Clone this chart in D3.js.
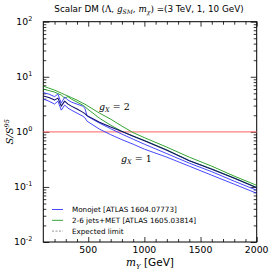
<!DOCTYPE html>
<html>
<head>
<meta charset="utf-8">
<script src="https://cdn.jsdelivr.net/npm/d3@7"></script>
<style>
  body { margin: 0; background: #fff; }
  svg { display: block; font-family: "DejaVu Sans", sans-serif; }
  .tick line { stroke: #000; stroke-width: 0.8; }
  .domain { stroke: none; }
  .math { font-family: "DejaVu Serif", serif; font-style: italic; }
</style>
</head>
<body>
<svg id="chart" width="274" height="274"></svg>
<script>
// ── data ──
const masses = [100, 150, 200, 230, 260, 290, 320, 350, 400, 450, 470, 490, 600, 700, 800, 900, 1000, 1200, 1400, 1600, 1800, 2000];

// 2-6 jets+MET, upper curve (g_X = 2)
const jetsUpper = [6.78, 6.22, 5.73, 5.38, 5.05, 4.75, 4.46, 4.19, 3.77, 3.32, 3.19, 3.00, 2.19, 1.70, 1.27, 0.967, 0.785, 0.527, 0.347, 0.238, 0.157, 0.107];
// 2-6 jets+MET, second curve
const jetsLower = [5.98, 5.61, 5.27, 4.95, 4.65, 4.10, 4.36, 3.93, 3.47, 3.06, 2.87, 2.64, 1.77, 1.32, 1.02, 0.84, 0.70, 0.47, 0.30, 0.212, 0.146, 0.098];
// Monojet curves
const monoUpper = [5.16, 4.85, 4.36, 4.85, 3.32, 4.27, 3.77, 3.47, 3.19, 2.93, 2.70, 1.93, 1.44, 1.14, 0.909, 0.736, 0.597, 0.402, 0.270, 0.189, 0.127, 0.0871];
const monoMid   = [4.46, 4.19, 3.77, 4.10, 2.93, 3.61, 3.19, 2.93, 2.59, 2.28, 2.14, 1.97, 1.50, 1.22, 1.01, 0.835, 0.692, 0.465, 0.299, 0.210, 0.144, 0.0967];
const monoLower = [3.93, 3.61, 3.19, 3.61, 2.48, 3.06, 2.70, 2.48, 2.19, 1.93, 1.81, 1.56, 1.12, 0.889, 0.721, 0.597, 0.485, 0.347, 0.238, 0.163, 0.112, 0.0767];

const yMajor = [-2, -1, 0, 1, 2];          // exponents
const xMajor = [500, 1000, 1500, 2000];
const legendLabels = ['Monojet [ATLAS 1604.07773]', '2-6 jets+MET [ATLAS 1605.03814]', 'Expected limit'];

// ── layout ──
const L = 43.3, R = 256.7, T = 21.7, B = 242;
const svg = d3.select('#chart');

const x = d3.scaleLinear().domain([100, 2000]).range([L, R]);
const y = d3.scaleLog().domain([0.01, 100]).range([B, T]);

// frame
svg.append('rect')
  .attr('x', L).attr('y', T).attr('width', R - L).attr('height', B - T)
  .attr('fill', 'none').attr('stroke', '#000').attr('stroke-width', 1);

// minor / major ticks via d3 axes (ticks pointing inside)
const xMinor = d3.range(200, 2000, 100).filter(v => v % 500 !== 0);
const yMinor = [];
for (let e = -2; e < 2; e++) for (let k = 2; k <= 9; k++) yMinor.push(k * Math.pow(10, e));
const yMajorVals = yMajor.map(e => Math.pow(10, e));

function ticks(axisFn, scale, vals, size, tr) {
  svg.append('g').attr('transform', tr)
    .call(axisFn(scale).tickValues(vals).tickSize(size).tickFormat(''));
}
ticks(d3.axisBottom, x, xMajor, -5, `translate(0,${B})`);
ticks(d3.axisBottom, x, xMinor, -3, `translate(0,${B})`);
ticks(d3.axisTop, x, xMajor, -5, `translate(0,${T})`);
ticks(d3.axisTop, x, xMinor, -3, `translate(0,${T})`);
ticks(d3.axisLeft, y, yMajorVals, -6, `translate(${L},0)`);
ticks(d3.axisLeft, y, yMinor, -3, `translate(${L},0)`);
ticks(d3.axisRight, y, yMajorVals, -6, `translate(${R},0)`);
ticks(d3.axisRight, y, yMinor, -3, `translate(${R},0)`);

// tick labels
svg.append('g').selectAll('text').data(xMajor).join('text')
  .attr('x', d => x(d)).attr('y', B + 11)
  .attr('text-anchor', 'middle').attr('font-size', 9.3)
  .text(d => d);

const yl = svg.append('g').selectAll('text').data(yMajor).join('text')
  .attr('x', L - 11).attr('y', d => y(Math.pow(10, d)) + 3)
  .attr('text-anchor', 'end').attr('font-size', 9.3);
yl.append('tspan').text('10');
yl.append('tspan').attr('font-size', 6.5).attr('dy', -4).text(d => d);

// reference line at S/S95 = 1
svg.append('line')
  .attr('x1', L).attr('x2', R).attr('y1', y(1)).attr('y2', y(1))
  .attr('stroke', '#ff6b6b').attr('stroke-width', 1.4).attr('stroke-opacity', 0.85);

// curves
svg.append('clipPath').attr('id', 'clip')
  .append('rect').attr('x', L).attr('y', T).attr('width', R - L).attr('height', B - T);

const line = d3.line().x((d, i) => x(masses[i])).y(d => y(d));
const series = [
  { vals: jetsLower, color: '#1f9a1f', w: 0.9 },
  { vals: jetsUpper, color: '#1f9a1f', w: 0.9 },
  { vals: monoUpper, color: '#3333ff', w: 0.9 },
  { vals: monoLower, color: '#3333ff', w: 0.9 },
  { vals: monoMid,   color: '#101070', w: 1.1 }
];
svg.append('g').attr('clip-path', 'url(#clip)')
  .selectAll('path').data(series).join('path')
  .attr('d', d => line(d.vals))
  .attr('fill', 'none')
  .attr('stroke', d => d.color)
  .attr('stroke-width', d => d.w)
  .attr('stroke-linejoin', 'round');

// annotations
function gLabel(px, py, n) {
  const t = svg.append('text').attr('x', px).attr('y', py).attr('font-size', 9.5)
    .attr('class', 'math');
  t.append('tspan').text('g');
  t.append('tspan').attr('font-size', 6.5).attr('dy', 2).text('X');
  t.append('tspan').attr('dy', -2).attr('font-style', 'normal').text(' = ' + n);
}
gLabel(99, 110, 2);
gLabel(121, 162, 1);

// legend
const legColors = ['#3333ff', '#1f9a1f', '#888'];
const lg = svg.append('g');
legendLabels.forEach((lab, i) => {
  const ly = 209.5 + i * 10.8;
  lg.append('line').attr('x1', 52).attr('x2', 63).attr('y1', ly).attr('y2', ly)
    .attr('stroke', legColors[i]).attr('stroke-width', 0.9)
    .attr('stroke-dasharray', i === 2 ? '2,1.5' : null);
  lg.append('text').attr('x', 72).attr('y', ly + 2.5).attr('font-size', 7.2).text(lab);
});

// title
const title = svg.append('text').attr('x', 149).attr('y', 12)
  .attr('text-anchor', 'middle').attr('font-size', 8.8);
title.append('tspan').text('Scalar DM (');
title.append('tspan').attr('font-family', 'DejaVu Serif').text('Λ, ');
title.append('tspan').attr('class', 'math').text('g');
title.append('tspan').attr('class', 'math').attr('font-size', 6).attr('dy', 2).text('SM');
title.append('tspan').attr('dy', -2).attr('font-family', 'DejaVu Serif').text(', ');
title.append('tspan').attr('class', 'math').text('m');
title.append('tspan').attr('class', 'math').attr('font-size', 6).attr('dy', 2).text('χ');
title.append('tspan').attr('dy', -2).attr('font-family', 'DejaVu Serif').text(')');
title.append('tspan').text(' =(3 TeV, 1, 10 GeV)');

// axis labels
const xl = svg.append('text').attr('x', 150).attr('y', 266)
  .attr('text-anchor', 'middle').attr('font-size', 10.5);
xl.append('tspan').attr('class', 'math').text('m');
xl.append('tspan').attr('class', 'math').attr('font-size', 7).attr('dy', 2.5).text('Y');
xl.append('tspan').attr('dy', -2.5).text(' [GeV]');

const ylab = svg.append('text')
  .attr('transform', `translate(13,${(T + B) / 2}) rotate(-90)`)
  .attr('text-anchor', 'middle').attr('font-size', 10).attr('class', 'math');
ylab.append('tspan').text('S/S');
ylab.append('tspan').attr('font-size', 6.5).attr('dy', -4).text('95');
</script>
</body>
</html>
